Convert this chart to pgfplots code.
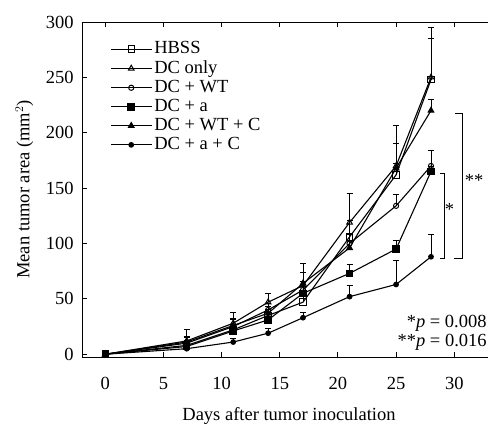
\documentclass[border=0pt]{standalone}
\usepackage{pgfplots}
\pgfplotsset{compat=1.18}
\usepackage{fontspec}
\setmainfont{Liberation Serif}

\pgfplotsset{
  ser/.style={black, line width=1.1pt, mark size=3.2pt,
    error bars/y dir=plus, error bars/y explicit,
    error bars/error bar style={line width=0.9pt, solid},
    error bars/error mark options={rotate=90, mark size=3pt, line width=0.9pt}},
}

\begin{document}
\fontsize{18.5}{22}\selectfont
\begin{tikzpicture}
\useasboundingbox (-82pt,-69pt) rectangle (406pt,357pt);
\begin{axis}[
  at={(0,0)}, anchor=south west,
  scale only axis, width=406pt, height=335pt,
  xmin=-2, xmax=32.9, ymin=-2.5, ymax=300,
  axis x line=box, axis y line=left, axis line style={-, line width=0.9pt},
  xtick={0,5,...,30}, ytick={0,50,...,300},
  tick align=inside, major tick length=5pt,
  tick style={line width=0.9pt, black},
  /pgf/number format/assume math mode=true,
  ticklabel style={font=\fontsize{18.5}{22}\selectfont},
  xticklabel style={yshift=-14pt},
  yticklabel style={xshift=-2pt},
  xlabel={Days after tumor inoculation},
  ylabel={Mean tumor area (mm$^2$)},
  label style={font=\fontsize{18.5}{22}\selectfont},
  xlabel style={yshift=-5pt, xshift=4pt},
  legend style={at={(0.069,0.948)}, anchor=north west, draw=none, fill=none,
    font=\fontsize{18.5}{22}\selectfont, row sep=0pt, inner sep=0pt},
  legend cell align=left,
  legend image code/.code={\draw[mark repeat=2,mark phase=2] plot coordinates {(0cm,0cm) (0.72cm,0cm) (1.44cm,0cm)};},
  clip=false,
]
\addplot[ser, mark=square, mark options={solid, line width=1pt, fill=white}] coordinates {
 (0,0) +- (0,2) (7,8) +- (0,4) (11,22) +- (0,5) (14,35) +- (0,5) (17,47) +- (0,8)
 (21,106) +- (0,15) (25,162) +- (0,10) (28,248) +- (0,47)};
\addlegendentry{HBSS}
\addplot[ser, mark=triangle, mark options={solid, line width=1pt, fill=white}] coordinates {
 (0,0) +- (0,2) (7,12) +- (0,10) (11,28) +- (0,10) (14,47) +- (0,8) (17,62) +- (0,12)
 (21,119) +- (0,26) (25,170) +- (0,20) (28,250) +- (0,35)};
\addlegendentry{DC only}
\addplot[ser, mark=o, mark size=2.6pt, mark options={solid, line width=1pt, fill=white}] coordinates {
 (0,0) +- (0,2) (7,10) +- (0,5) (11,25) +- (0,6) (14,40) +- (0,6) (17,58) +- (0,8)
 (21,100) +- (0,8) (25,134) +- (0,10) (28,170) +- (0,14)};
\addlegendentry{DC + WT}
\addplot[ser, mark=square*, mark options={solid}] coordinates {
 (0,0) +- (0,2) (7,7) +- (0,4) (11,21) +- (0,5) (14,31) +- (0,5) (17,55) +- (0,6)
 (21,73) +- (0,8) (25,95) +- (0,8) (28,165) +- (0,5)};
\addlegendentry{DC + a}
\addplot[ser, mark=triangle*, mark options={solid}] coordinates {
 (0,0) +- (0,2) (7,11) +- (0,5) (11,26) +- (0,6) (14,37) +- (0,6) (17,64) +- (0,18)
 (21,96) +- (0,12) (25,168) +- (0,39) (28,220) +- (0,10)};
\addlegendentry{DC + WT + C}
\addplot[ser, mark=*, mark size=2.3pt, mark options={solid}] coordinates {
 (0,0) +- (0,2) (7,5) +- (0,3) (11,11) +- (0,3) (14,19) +- (0,4) (17,33) +- (0,5)
 (21,52) +- (0,10) (25,63) +- (0,22) (28,88) +- (0,20)};
\addlegendentry{DC + a + C}

% significance brackets
\draw[line width=1pt] (axis cs:30.1,217.5) -- (axis cs:30.7,217.5) -- (axis cs:30.7,86.6) -- (axis cs:30.0,86.6);
\draw[line width=1pt] (axis cs:28.8,163) -- (axis cs:29.15,163) -- (axis cs:29.15,86.6) -- (axis cs:28.8,86.6);
\node at (axis cs:29.6,131) {*};
\node at (axis cs:31.7,157) {**};
\node[anchor=east, inner sep=0pt] at (axis cs:32.8,28) {*\textit{p} = 0.008};
\node[anchor=east, inner sep=0pt] at (axis cs:32.8,10.5) {**\textit{p} = 0.016};
\end{axis}
\end{tikzpicture}
\end{document}
